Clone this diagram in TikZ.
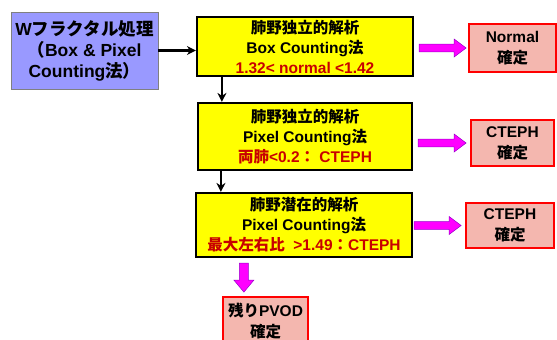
\documentclass[tikz,border=0pt]{standalone}
\usepackage{fontspec}
\setmainfont{Liberation Sans}
\newfontfamily\jp{Noto Sans CJK JP}
\newcommand\J[1]{{\jp #1}}
\usetikzlibrary{calc,arrows.meta}
\definecolor{lav}{HTML}{9999FF}
\definecolor{ybox}{HTML}{FFFF00}
\definecolor{redtxt}{HTML}{C80000}
\definecolor{pinkbox}{HTML}{F4B7AF}
\definecolor{mag}{HTML}{FF00FF}
\definecolor{magedge}{HTML}{9900CC}
\tikzset{
  base/.style={rectangle, inner sep=0pt, align=center, font=\bfseries},
  procbox/.style={base, draw=gray, line width=0.8pt, fill=lav, font=\bfseries\fontsize{17.5}{21}\selectfont},
  stepbox/.style={base, draw=black, line width=2.2pt, fill=ybox, font=\bfseries\fontsize{15.5}{20}\selectfont},
  resbox/.style={base, draw=red, line width=1.8pt, fill=pinkbox, font=\bfseries\fontsize{15.5}{21}\selectfont},
  blk/.style={draw=black, line width=2.2pt, -{Stealth[length=9pt,width=9pt]}},
  magarr/.style={fill=mag, draw=magedge, line width=0.5pt},
}
\newcommand\marrowh[2]{%
  \path let \p1=(#1), \p2=(#2) in
  [magarr] (\x1,\y1+3.8pt) -- (\x2-12pt,\y1+3.8pt) -- (\x2-12pt,\y1+9pt) -- (\x2,\y1)
  -- (\x2-12pt,\y1-9pt) -- (\x2-12pt,\y1-3.8pt) -- (\x1,\y1-3.8pt) -- cycle;}
\newcommand\marrowv[2]{%
  \path let \p1=(#1), \p2=(#2) in
  [magarr] (\x1-4.5pt,\y1) -- (\x1-4.5pt,\y2+12pt) -- (\x1-10pt,\y2+12pt) -- (\x1,\y2)
  -- (\x1+10pt,\y2+12pt) -- (\x1+4.5pt,\y2+12pt) -- (\x1+4.5pt,\y1) -- cycle;}
\begin{document}
\begin{tikzpicture}[x=1pt,y=-1pt]
\clip (0,0) rectangle (557,340);
\fill[white] (0,0) rectangle (557,340);
\node[procbox, minimum width=147, minimum height=77] (L) at (84.5,50.5)
  {W\J{フラクタル処理}\\\J{（}Box \& Pixel\\Counting\J{法）}};
\node[stepbox, minimum width=216, minimum height=59] (Y1) at (305,46.5)
  {\J{肺野独立的解析}\\Box Counting\J{法}\\\color{redtxt}1.32< normal <1.42};
\node[stepbox, minimum width=214, minimum height=67] (Y2) at (305,136.5)
  {\J{肺野独立的解析}\\Pixel Counting\J{法}\\\color{redtxt}\J{両肺}<0.2\J{：} CTEPH};
\node[stepbox, minimum width=216, minimum height=64] (Y3) at (304,225)
  {\J{肺野潜在的解析}\\Pixel Counting\J{法}\\\color{redtxt}\J{最大左右比}\ \ >1.49\J{：}CTEPH};
\node[resbox, minimum width=87, minimum height=48] (N1) at (512.5,48) {Normal\\\J{確定}};
\node[resbox, minimum width=83, minimum height=46] (N2) at (512.5,143) {CTEPH\\\J{確定}};
\node[resbox, minimum width=88, minimum height=45] (N3) at (510,225.5) {CTEPH\\\J{確定}};
\node[resbox, minimum width=85, minimum height=48] (P) at (265.5,321) {\J{残り}PVOD\\\J{確定}};
% black connectors
\draw[blk] (L.east) -- (L.east -| Y1.west);
\coordinate (d1) at ($(Y1.south west)+(26,0)$);
\draw[blk] (d1) -- (d1 |- Y2.north);
\coordinate (d2) at ($(Y2.south west)+(24,0)$);
\draw[blk] (d2) -- (d2 |- Y3.north);
% magenta block arrows
\coordinate (m1s) at ($(Y1.east |- N1.west)+(5,0)$);
\coordinate (m1e) at ($(N1.west)+(-2,0)$);
\marrowh{m1s}{m1e}
\coordinate (m2s) at ($(Y2.east |- N2.west)+(5,0)$);
\coordinate (m2e) at ($(N2.west)+(-4,0)$);
\marrowh{m2s}{m2e}
\coordinate (m3s) at ($(Y3.east |- N3.west)+(1,0)$);
\coordinate (m3e) at ($(N3.west)+(-4,0)$);
\marrowh{m3s}{m3e}
\coordinate (m4s) at ($(Y3.south west)+(49,5)$);
\coordinate (m4e) at ($(m4s |- P.north)+(0,-4)$);
\marrowv{m4s}{m4e}
\end{tikzpicture}
\end{document}
